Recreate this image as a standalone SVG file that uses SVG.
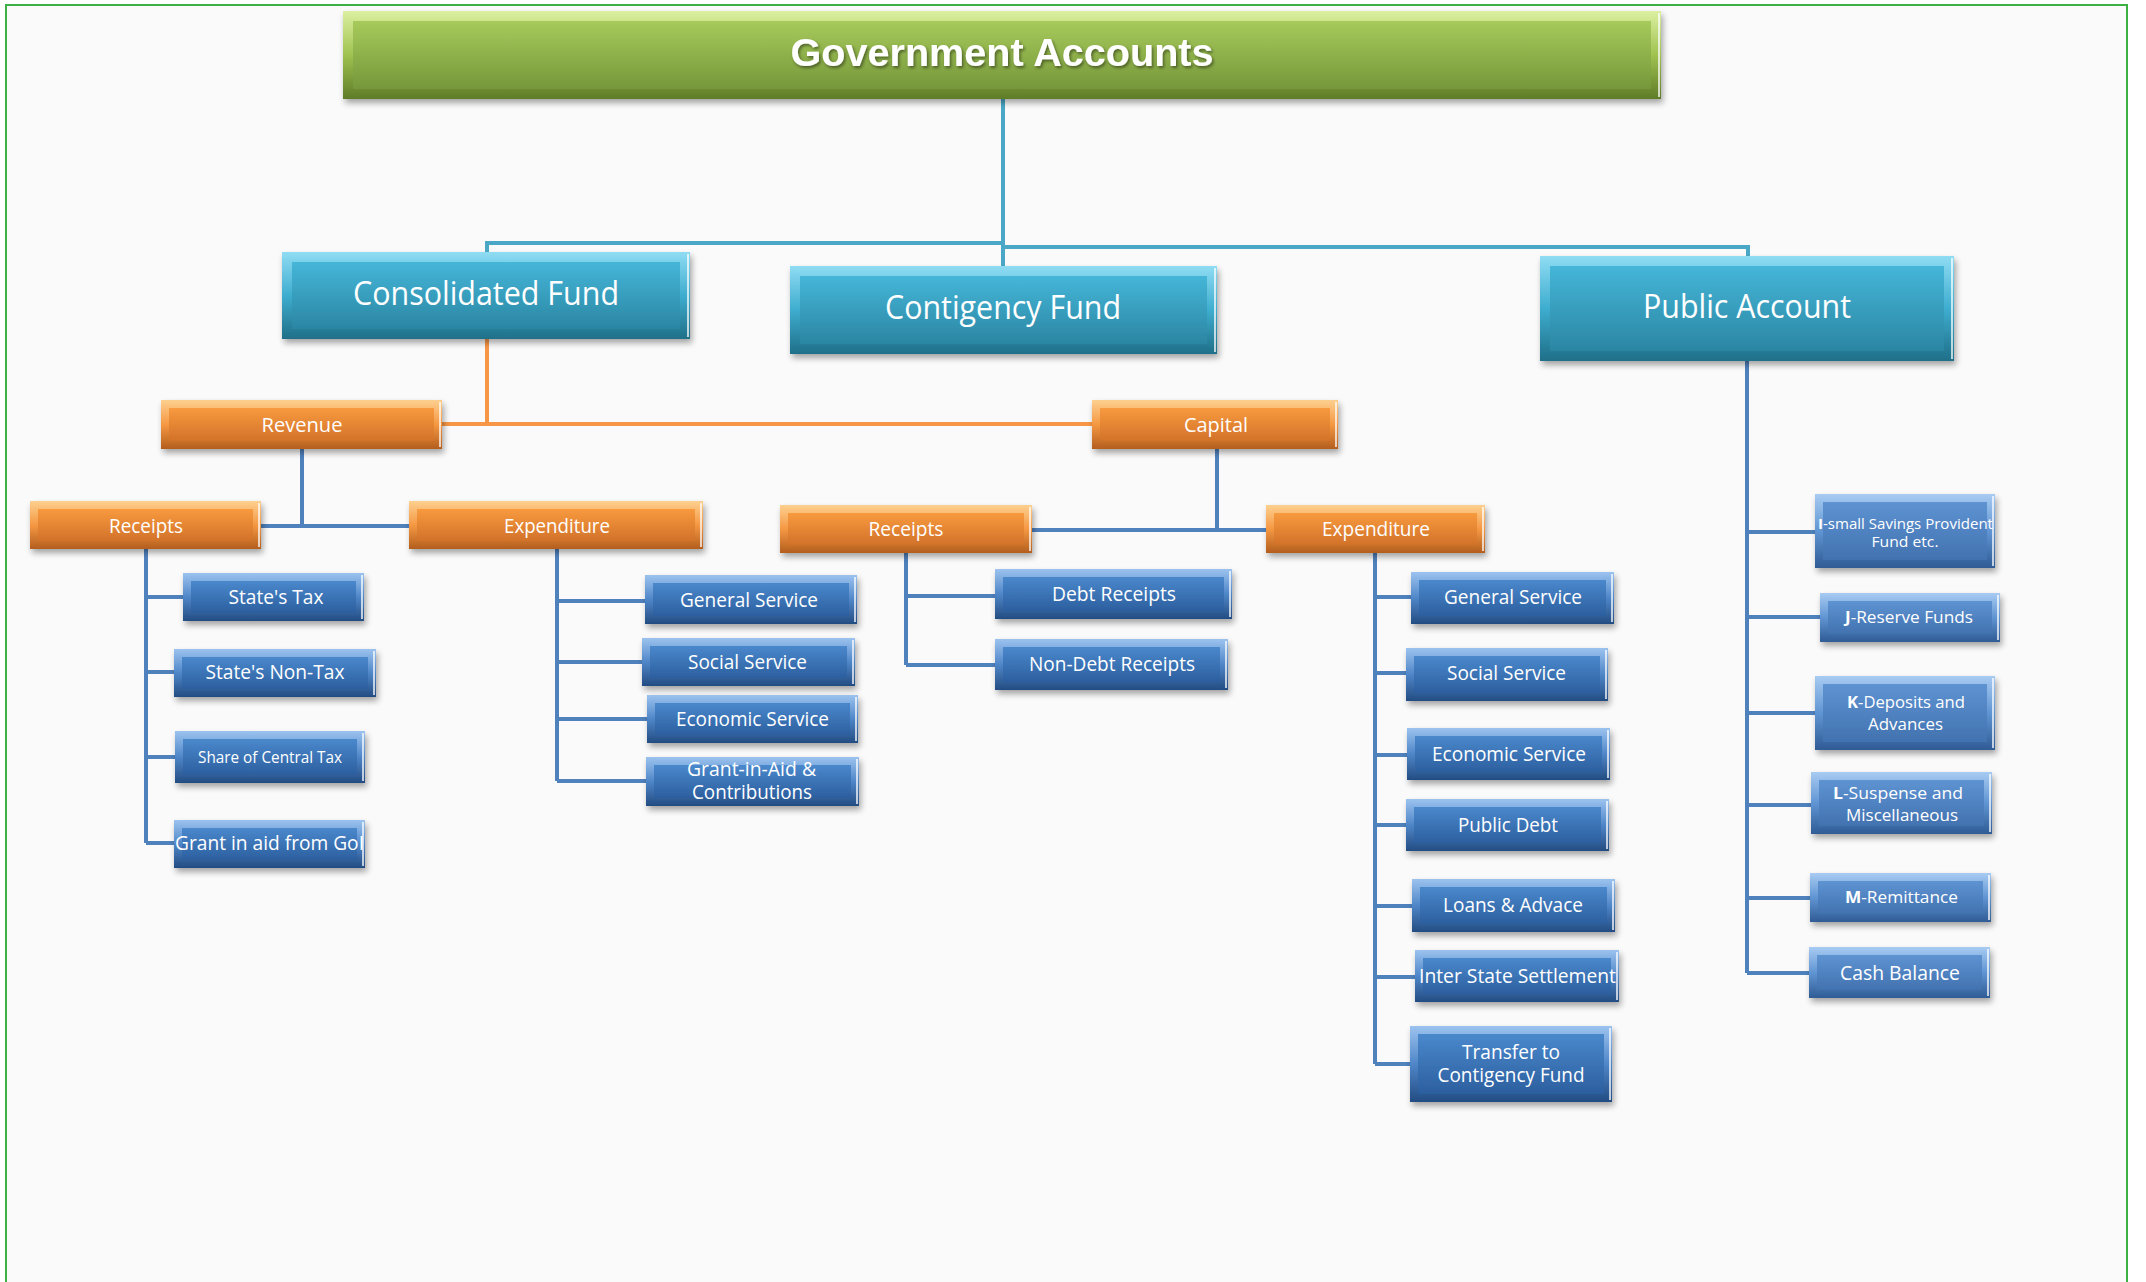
<svg xmlns="http://www.w3.org/2000/svg" width="2146" height="1282" viewBox="0 0 2146 1282">
<defs>
<linearGradient id="gFaceB" x1="0" y1="0" x2="0" y2="1"><stop offset="0" stop-color="#4a88cc"/><stop offset="1" stop-color="#2c5f9f"/></linearGradient>
<linearGradient id="gFrameB" x1="0" y1="0" x2="0" y2="1"><stop offset="0" stop-color="#9cc3ef"/><stop offset="0.5" stop-color="#4f86c8"/><stop offset="1" stop-color="#234c82"/></linearGradient>
<linearGradient id="gFaceP" x1="0" y1="0" x2="0" y2="1"><stop offset="0" stop-color="#5e93d2"/><stop offset="1" stop-color="#4272b0"/></linearGradient>
<linearGradient id="gFrameP" x1="0" y1="0" x2="0" y2="1"><stop offset="0" stop-color="#a8cbf2"/><stop offset="0.5" stop-color="#6095d3"/><stop offset="1" stop-color="#2f5b94"/></linearGradient>
<linearGradient id="gFaceO" x1="0" y1="0" x2="0" y2="1"><stop offset="0" stop-color="#f89a3e"/><stop offset="1" stop-color="#d2722a"/></linearGradient>
<linearGradient id="gFrameO" x1="0" y1="0" x2="0" y2="1"><stop offset="0" stop-color="#fdd08f"/><stop offset="0.5" stop-color="#f59843"/><stop offset="1" stop-color="#b35e1e"/></linearGradient>
<linearGradient id="gFaceT" x1="0" y1="0" x2="0" y2="1"><stop offset="0" stop-color="#45b6d8"/><stop offset="1" stop-color="#2b86a3"/></linearGradient>
<linearGradient id="gFrameT" x1="0" y1="0" x2="0" y2="1"><stop offset="0" stop-color="#8fdcf3"/><stop offset="0.5" stop-color="#3eadcf"/><stop offset="1" stop-color="#1f6f88"/></linearGradient>
<linearGradient id="gFaceG" x1="0" y1="0" x2="0" y2="1"><stop offset="0" stop-color="#a7ca5c"/><stop offset="1" stop-color="#76973a"/></linearGradient>
<linearGradient id="gFrameG" x1="0" y1="0" x2="0" y2="1"><stop offset="0" stop-color="#dcf0a0"/><stop offset="0.5" stop-color="#9fc250"/><stop offset="1" stop-color="#5e7c28"/></linearGradient>
<filter id="sh" x="-10%" y="-20%" width="120%" height="150%">
<feGaussianBlur in="SourceAlpha" stdDeviation="3"/>
<feOffset dx="2" dy="4" result="o"/>
<feComponentTransfer><feFuncA type="linear" slope="0.35"/></feComponentTransfer>
<feMerge><feMergeNode/><feMergeNode in="SourceGraphic"/></feMerge>
</filter>
<filter id="ts" x="-5%" y="-30%" width="110%" height="160%">
<feDropShadow dx="1.5" dy="2" stdDeviation="1.5" flood-color="#000" flood-opacity="0.45"/>
</filter>
</defs>
<style>
.fb{fill:url(#gFrameB)} .cb{fill:url(#gFaceB)}
.fp{fill:url(#gFrameP)} .cp{fill:url(#gFaceP)}
.fo{fill:url(#gFrameO)} .co{fill:url(#gFaceO)}
.ft{fill:url(#gFrameT)} .ct{fill:url(#gFaceT)}
.fg{fill:url(#gFrameG)} .cg{fill:url(#gFaceG)}
.hl{stroke:#ffffff;stroke-opacity:0.7;stroke-width:2}
.t{font-family:"Open Sans","Noto Sans",sans-serif;fill:#ffffff;text-anchor:middle}
.title{font-family:"Liberation Sans",Arial,sans-serif;font-weight:bold;fill:#ffffff;text-anchor:middle;font-size:38px}
.l2{font-size:32px}
.l3{font-size:20.5px}
.l4{font-size:20px}
.l5{font-size:15px}
.ct1{stroke:#4aa8c6;stroke-width:4;fill:none}
.co1{stroke:#f79646;stroke-width:4;fill:none}
.cb1{stroke:#4f81bd;stroke-width:4;fill:none}
</style>

<rect x="0" y="0" width="2146" height="1282" fill="#ffffff"/>
<rect x="6" y="5" width="2121" height="1290" fill="#fafafa" stroke="#3cb043" stroke-width="2"/>

<g id="connectors">
<path class="ct1" d="M1003,99 V266"/>
<path class="ct1" d="M487,252 V243 H1003"/>
<path class="ct1" d="M1003,247 H1748 V256"/>
<path class="co1" d="M487,339 V424"/>
<path class="co1" d="M442,424 H1092"/>
<path class="cb1" d="M302,449 V526"/>
<path class="cb1" d="M261,526 H409"/>
<path class="cb1" d="M146,549 V843"/>
<path class="cb1" d="M146,597 H183 M146,672 H174 M146,757 H175 M146,843 H174"/>
<path class="cb1" d="M557,549 V781"/>
<path class="cb1" d="M557,601 H645 M557,662 H642 M557,719 H647 M557,781 H646"/>
<path class="cb1" d="M1217,449 V530"/>
<path class="cb1" d="M1032,530 H1266"/>
<path class="cb1" d="M906,553 V665"/>
<path class="cb1" d="M906,596 H995 M906,665 H995"/>
<path class="cb1" d="M1375,553 V1064"/>
<path class="cb1" d="M1375,597 H1411 M1375,673 H1406 M1375,755 H1407 M1375,825 H1406 M1375,906 H1412 M1375,977 H1415 M1375,1064 H1410"/>
<path class="cb1" d="M1747,361 V973"/>
<path class="cb1" d="M1747,532 H1815 M1747,617 H1820 M1747,713 H1815 M1747,805 H1811 M1747,898 H1810 M1747,973 H1809"/>
</g>

<g id="n-title">
<g filter="url(#sh)"><rect class="fg" x="343" y="11" width="1318" height="88"/><rect class="cg" x="353" y="21" width="1298" height="68"/><line class="hl" x1="1659" y1="13" x2="1659" y2="97"/></g>
<text class="title" x="1002" y="66" textLength="423" lengthAdjust="spacingAndGlyphs" filter="url(#ts)">Government Accounts</text>
</g>

<g id="n-consolidated">
<g filter="url(#sh)"><rect class="ft" x="282" y="252" width="408" height="87"/><rect class="ct" x="292" y="262" width="388" height="67"/><line class="hl" x1="688" y1="254" x2="688" y2="337"/></g>
<text class="t l2" x="486" y="305" textLength="266" lengthAdjust="spacingAndGlyphs">Consolidated Fund</text>
</g>

<g id="n-contigency">
<g filter="url(#sh)"><rect class="ft" x="790" y="266" width="427" height="88"/><rect class="ct" x="800" y="276" width="407" height="68"/><line class="hl" x1="1215" y1="268" x2="1215" y2="352"/></g>
<text class="t l2" x="1003" y="319" textLength="236" lengthAdjust="spacingAndGlyphs">Contigency Fund</text>
</g>

<g id="n-public">
<g filter="url(#sh)"><rect class="ft" x="1540" y="256" width="414" height="105"/><rect class="ct" x="1550" y="266" width="394" height="85"/><line class="hl" x1="1952" y1="258" x2="1952" y2="359"/></g>
<text class="t l2" x="1747" y="318" textLength="208" lengthAdjust="spacingAndGlyphs">Public Account</text>
</g>

<g id="n-revenue">
<g filter="url(#sh)"><rect class="fo" x="161" y="400" width="281" height="49"/><rect class="co" x="169" y="408" width="265" height="33"/><line class="hl" x1="440" y1="402" x2="440" y2="447"/></g>
<text class="t l3" x="302" y="431.5" textLength="81" lengthAdjust="spacingAndGlyphs">Revenue</text>
</g>

<g id="n-capital">
<g filter="url(#sh)"><rect class="fo" x="1092" y="400" width="246" height="49"/><rect class="co" x="1100" y="408" width="230" height="33"/><line class="hl" x1="1336" y1="402" x2="1336" y2="447"/></g>
<text class="t l3" x="1216" y="431.5" textLength="64" lengthAdjust="spacingAndGlyphs">Capital</text>
</g>

<g id="n-rev-receipts">
<g filter="url(#sh)"><rect class="fo" x="30" y="501" width="231" height="48"/><rect class="co" x="38" y="509" width="215" height="32"/><line class="hl" x1="259" y1="503" x2="259" y2="547"/></g>
<text class="t l3" x="146" y="532.5" textLength="74" lengthAdjust="spacingAndGlyphs">Receipts</text>
</g>

<g id="n-rev-expenditure">
<g filter="url(#sh)"><rect class="fo" x="409" y="501" width="294" height="48"/><rect class="co" x="417" y="509" width="278" height="32"/><line class="hl" x1="701" y1="503" x2="701" y2="547"/></g>
<text class="t l3" x="557" y="532.5" textLength="106" lengthAdjust="spacingAndGlyphs">Expenditure</text>
</g>

<g id="n-cap-receipts">
<g filter="url(#sh)"><rect class="fo" x="780" y="505" width="252" height="48"/><rect class="co" x="788" y="513" width="236" height="32"/><line class="hl" x1="1030" y1="507" x2="1030" y2="551"/></g>
<text class="t l3" x="906" y="535.5" textLength="75" lengthAdjust="spacingAndGlyphs">Receipts</text>
</g>

<g id="n-cap-expenditure">
<g filter="url(#sh)"><rect class="fo" x="1266" y="505" width="219" height="48"/><rect class="co" x="1274" y="513" width="203" height="32"/><line class="hl" x1="1483" y1="507" x2="1483" y2="551"/></g>
<text class="t l3" x="1376" y="535.5" textLength="108" lengthAdjust="spacingAndGlyphs">Expenditure</text>
</g>

<g id="n-states-tax">
<g filter="url(#sh)"><rect class="fb" x="183" y="573" width="181" height="48"/><rect class="cb" x="191" y="581" width="165" height="32"/><line class="hl" x1="362" y1="575" x2="362" y2="619"/></g>
<text class="t l4" x="276" y="604" textLength="95" lengthAdjust="spacingAndGlyphs">State's Tax</text>
</g>

<g id="n-states-nontax">
<g filter="url(#sh)"><rect class="fb" x="174" y="649" width="202" height="48"/><rect class="cb" x="182" y="657" width="186" height="32"/><line class="hl" x1="374" y1="651" x2="374" y2="695"/></g>
<text class="t l4" x="275" y="679" textLength="139" lengthAdjust="spacingAndGlyphs">State's Non-Tax</text>
</g>

<g id="n-share-central">
<g filter="url(#sh)"><rect class="fb" x="175" y="731" width="190" height="52"/><rect class="cb" x="183" y="739" width="174" height="36"/><line class="hl" x1="363" y1="733" x2="363" y2="781"/></g>
<text class="t" style="font-size:16px" x="270" y="763" textLength="144" lengthAdjust="spacingAndGlyphs">Share of Central Tax</text>
</g>

<g id="n-grant-goi">
<g filter="url(#sh)"><rect class="fb" x="174" y="820" width="191" height="48"/><rect class="cb" x="182" y="828" width="175" height="32"/><line class="hl" x1="363" y1="822" x2="363" y2="866"/></g>
<text class="t l4" x="269.5" y="850" textLength="189" lengthAdjust="spacingAndGlyphs">Grant in aid from GoI</text>
</g>

<g id="n-rev-general">
<g filter="url(#sh)"><rect class="fb" x="645" y="575" width="212" height="49"/><rect class="cb" x="653" y="583" width="196" height="33"/><line class="hl" x1="855" y1="577" x2="855" y2="622"/></g>
<text class="t l4" x="749" y="607" textLength="138" lengthAdjust="spacingAndGlyphs">General Service</text>
</g>

<g id="n-rev-social">
<g filter="url(#sh)"><rect class="fb" x="642" y="638" width="213" height="48"/><rect class="cb" x="650" y="646" width="197" height="32"/><line class="hl" x1="853" y1="640" x2="853" y2="684"/></g>
<text class="t l4" x="747.5" y="669" textLength="119" lengthAdjust="spacingAndGlyphs">Social Service</text>
</g>

<g id="n-rev-economic">
<g filter="url(#sh)"><rect class="fb" x="647" y="695" width="211" height="48"/><rect class="cb" x="655" y="703" width="195" height="32"/><line class="hl" x1="856" y1="697" x2="856" y2="741"/></g>
<text class="t l4" x="752.5" y="726" textLength="153" lengthAdjust="spacingAndGlyphs">Economic Service</text>
</g>

<g id="n-rev-grant">
<g filter="url(#sh)"><rect class="fb" x="646" y="757" width="213" height="49"/><rect class="cb" x="654" y="765" width="197" height="33"/><line class="hl" x1="857" y1="759" x2="857" y2="804"/></g>
<text class="t l4" x="751.5" y="776" textLength="129" lengthAdjust="spacingAndGlyphs">Grant-in-Aid &amp;</text>
<text class="t l4" x="752" y="799" textLength="120" lengthAdjust="spacingAndGlyphs">Contributions</text>
</g>

<g id="n-debt">
<g filter="url(#sh)"><rect class="fb" x="995" y="569" width="237" height="50"/><rect class="cb" x="1003" y="577" width="221" height="34"/><line class="hl" x1="1230" y1="571" x2="1230" y2="617"/></g>
<text class="t l4" x="1114" y="601" textLength="124" lengthAdjust="spacingAndGlyphs">Debt Receipts</text>
</g>

<g id="n-nondebt">
<g filter="url(#sh)"><rect class="fb" x="995" y="639" width="233" height="51"/><rect class="cb" x="1003" y="647" width="217" height="35"/><line class="hl" x1="1226" y1="641" x2="1226" y2="688"/></g>
<text class="t l4" x="1112" y="671" textLength="166" lengthAdjust="spacingAndGlyphs">Non-Debt Receipts</text>
</g>

<g id="n-cap-general">
<g filter="url(#sh)"><rect class="fb" x="1411" y="572" width="203" height="52"/><rect class="cb" x="1419" y="580" width="187" height="36"/><line class="hl" x1="1612" y1="574" x2="1612" y2="622"/></g>
<text class="t l4" x="1513" y="604" textLength="138" lengthAdjust="spacingAndGlyphs">General Service</text>
</g>

<g id="n-cap-social">
<g filter="url(#sh)"><rect class="fb" x="1406" y="648" width="202" height="53"/><rect class="cb" x="1414" y="656" width="186" height="37"/><line class="hl" x1="1606" y1="650" x2="1606" y2="699"/></g>
<text class="t l4" x="1506.5" y="680" textLength="119" lengthAdjust="spacingAndGlyphs">Social Service</text>
</g>

<g id="n-cap-economic">
<g filter="url(#sh)"><rect class="fb" x="1407" y="728" width="203" height="52"/><rect class="cb" x="1415" y="736" width="187" height="36"/><line class="hl" x1="1608" y1="730" x2="1608" y2="778"/></g>
<text class="t l4" x="1509" y="761" textLength="154" lengthAdjust="spacingAndGlyphs">Economic Service</text>
</g>

<g id="n-public-debt">
<g filter="url(#sh)"><rect class="fb" x="1406" y="799" width="203" height="52"/><rect class="cb" x="1414" y="807" width="187" height="36"/><line class="hl" x1="1607" y1="801" x2="1607" y2="849"/></g>
<text class="t l4" x="1508" y="832" textLength="100" lengthAdjust="spacingAndGlyphs">Public Debt</text>
</g>

<g id="n-loans">
<g filter="url(#sh)"><rect class="fb" x="1412" y="879" width="203" height="53"/><rect class="cb" x="1420" y="887" width="187" height="37"/><line class="hl" x1="1613" y1="881" x2="1613" y2="930"/></g>
<text class="t l4" x="1513" y="912" textLength="140" lengthAdjust="spacingAndGlyphs">Loans &amp; Advace</text>
</g>

<g id="n-interstate">
<g filter="url(#sh)"><rect class="fb" x="1415" y="950" width="204" height="52"/><rect class="cb" x="1423" y="958" width="188" height="36"/><line class="hl" x1="1617" y1="952" x2="1617" y2="1000"/></g>
<text class="t l4" x="1517.5" y="983" textLength="197" lengthAdjust="spacingAndGlyphs">Inter State Settlement</text>
</g>

<g id="n-transfer">
<g filter="url(#sh)"><rect class="fb" x="1410" y="1026" width="202" height="76"/><rect class="cb" x="1418" y="1034" width="186" height="60"/><line class="hl" x1="1610" y1="1028" x2="1610" y2="1100"/></g>
<text class="t l4" x="1511" y="1059" textLength="98" lengthAdjust="spacingAndGlyphs">Transfer to</text>
<text class="t l4" x="1511" y="1082" textLength="147" lengthAdjust="spacingAndGlyphs">Contigency Fund</text>
</g>

<g id="n-i-savings">
<g filter="url(#sh)"><rect class="fp" x="1815" y="494" width="180" height="74"/><rect class="cp" x="1823" y="502" width="164" height="58"/><line class="hl" x1="1993" y1="496" x2="1993" y2="566"/></g>
<text class="t l5" x="1905.5" y="528.5" textLength="175" lengthAdjust="spacingAndGlyphs"><tspan font-weight="bold">I</tspan>-small Savings Provident</text>
<text class="t l5" x="1905" y="546.5" textLength="67" lengthAdjust="spacingAndGlyphs">Fund etc.</text>
</g>

<g id="n-j-reserve">
<g filter="url(#sh)"><rect class="fp" x="1820" y="593" width="180" height="49"/><rect class="cp" x="1828" y="601" width="164" height="33"/><line class="hl" x1="1998" y1="595" x2="1998" y2="640"/></g>
<text class="t" style="font-size:15.5px" x="1909" y="622.5" textLength="128" lengthAdjust="spacingAndGlyphs"><tspan font-weight="bold">J</tspan>-Reserve Funds</text>
</g>

<g id="n-k-deposits">
<g filter="url(#sh)"><rect class="fp" x="1815" y="676" width="180" height="74"/><rect class="cp" x="1823" y="684" width="164" height="58"/><line class="hl" x1="1993" y1="678" x2="1993" y2="748"/></g>
<text class="t" style="font-size:15.5px" x="1906" y="707.5" textLength="118" lengthAdjust="spacingAndGlyphs"><tspan font-weight="bold">K</tspan>-Deposits and</text>
<text class="t" style="font-size:15.5px" x="1905.5" y="729.5" textLength="75" lengthAdjust="spacingAndGlyphs">Advances</text>
</g>

<g id="n-l-suspense">
<g filter="url(#sh)"><rect class="fp" x="1811" y="772" width="181" height="62"/><rect class="cp" x="1819" y="780" width="165" height="46"/><line class="hl" x1="1990" y1="774" x2="1990" y2="832"/></g>
<text class="t" style="font-size:15.5px" x="1898" y="798.5" textLength="130" lengthAdjust="spacingAndGlyphs"><tspan font-weight="bold">L</tspan>-Suspense and</text>
<text class="t" style="font-size:15.5px" x="1902" y="820.5" textLength="112" lengthAdjust="spacingAndGlyphs">Miscellaneous</text>
</g>

<g id="n-m-remittance">
<g filter="url(#sh)"><rect class="fp" x="1810" y="873" width="181" height="49"/><rect class="cp" x="1818" y="881" width="165" height="33"/><line class="hl" x1="1989" y1="875" x2="1989" y2="920"/></g>
<text class="t" style="font-size:16px" x="1901.5" y="903" textLength="113" lengthAdjust="spacingAndGlyphs"><tspan font-weight="bold">M</tspan>-Remittance</text>
</g>

<g id="n-cash">
<g filter="url(#sh)"><rect class="fp" x="1809" y="947" width="181" height="51"/><rect class="cp" x="1817" y="955" width="165" height="35"/><line class="hl" x1="1988" y1="949" x2="1988" y2="996"/></g>
<text class="t l4" x="1900" y="980" textLength="120" lengthAdjust="spacingAndGlyphs">Cash Balance</text>
</g>
</svg>
